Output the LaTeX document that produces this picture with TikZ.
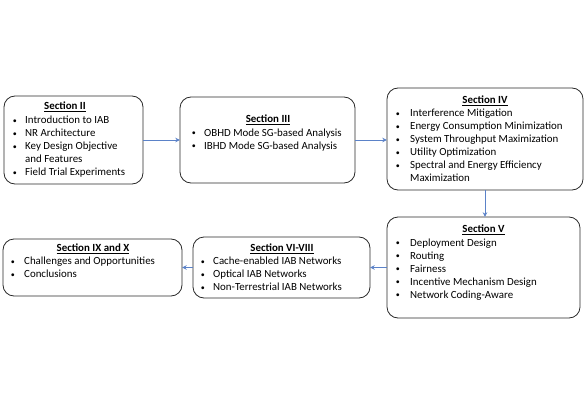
\documentclass[tikz,border=0pt]{standalone}
\usepackage{fontspec}
\setmainfont{Carlito}
\usetikzlibrary{arrows.meta}
\definecolor{arrowblue}{RGB}{91,130,200}
\definecolor{boxline}{RGB}{40,40,40}
\newcommand{\bul}{\raisebox{0.6pt}{\fontsize{8}{8}\selectfont\textbullet}}
\tikzset{
  sectbox/.style={draw=boxline, line width=0.8pt, rounded corners=11pt, inner sep=0pt},
  head/.style={inner sep=0pt, font=\fontsize{10.9}{13}\selectfont\bfseries},
  lst/.style={inner sep=0pt, anchor=north west, align=left, font=\fontsize{10.9}{13}\selectfont},
  conn/.style={draw=arrowblue, line width=0.8pt, -{Stealth[length=4.5pt,width=4.5pt]}}
}
\newcommand{\boxat}[5]{% name, x1, y1, x2, y2
  \path[sectbox] (#2,#3) rectangle (#4,#5);
  \node[inner sep=0pt, minimum width={(#4-#2)*1pt}, minimum height={(#5-#3)*1pt}] (#1) at ({(#2+#4)/2},{(#3+#5)/2}) {};}
\begin{document}
\begin{tikzpicture}[x=1pt,y=-1pt]
\useasboundingbox (0,0) rectangle (585,414);

% boxes
\boxat{b2}{4}{96}{143}{184}
\boxat{b3}{180}{97}{355}{183}
\boxat{b4}{387}{88}{583}{190}
\boxat{b5}{387}{217}{580}{318}
\boxat{b6}{193}{237}{370}{298}
\boxat{b9}{3}{239}{182}{296}

% Section II
\node[head] (h2) at (65,106.5) {\underline{Section II}};
\node[lst] (l2) at (12.6,114.4) {\begin{tabular}{@{}p{12.4pt}@{}l@{}}
\bul & Introduction to IAB\\
\bul & NR Architecture\\
\bul & Key Design Objective\\
 & and Features\\
\bul & Field Trial Experiments
\end{tabular}};

% Section III
\node[head] (h3) at (268,120) {\underline{Section III}};
\node[lst] (l3) at (191.6,126.9) {\begin{tabular}{@{}p{12.4pt}@{}l@{}}
\bul & OBHD Mode SG-based Analysis\\
\bul & IBHD Mode SG-based Analysis
\end{tabular}};

% Section IV
\node[head] (h4) at (485,101) {\underline{Section IV}};
\node[lst] (l4) at (395.6,107.4) {\begin{tabular}{@{}p{14.4pt}@{}l@{}}
\bul & Interference Mitigation\\
\bul & Energy Consumption Minimization\\
\bul & System Throughput Maximization\\
\bul & Utility Optimization\\
\bul & Spectral and Energy Efficiency\\
 & Maximization
\end{tabular}};

% Section V
\node[head] (h5) at (483.5,230) {\underline{Section V}};
\node[lst] (l5) at (395.6,236.9) {\begin{tabular}{@{}p{14.4pt}@{}l@{}}
\bul & Deployment Design\\
\bul & Routing\\
\bul & Fairness\\
\bul & Incentive Mechanism Design\\
\bul & Network Coding-Aware
\end{tabular}};

% Section VI-VIII
\node[head] (h6) at (282,249) {\underline{Section VI-VIII}};
\node[lst] (l6) at (200.6,255.6) {\begin{tabular}{@{}p{12.4pt}@{}l@{}}
\bul & Cache-enabled IAB Networks\\
\bul & Optical IAB Networks\\
\bul & Non-Terrestrial IAB Networks
\end{tabular}};

% Section IX and X
\node[head] (h9) at (93,249) {\underline{Section IX and X}};
\node[lst] (l9) at (10.6,255.6) {\begin{tabular}{@{}p{13.4pt}@{}l@{}}
\bul & Challenges and Opportunities\\
\bul & Conclusions
\end{tabular}};

% connectors
\draw[conn] (b2.east) -- (b2.east -| b3.west);
\draw[conn] (b3.east) -- (b3.east -| b4.west);
\draw[conn] (b4.south) -- (b4.south |- b5.north);
\draw[conn] (b5.west) -- (b5.west -| b6.east);
\draw[conn] (b6.west) -- (b6.west -| b9.east);
\end{tikzpicture}
\end{document}
